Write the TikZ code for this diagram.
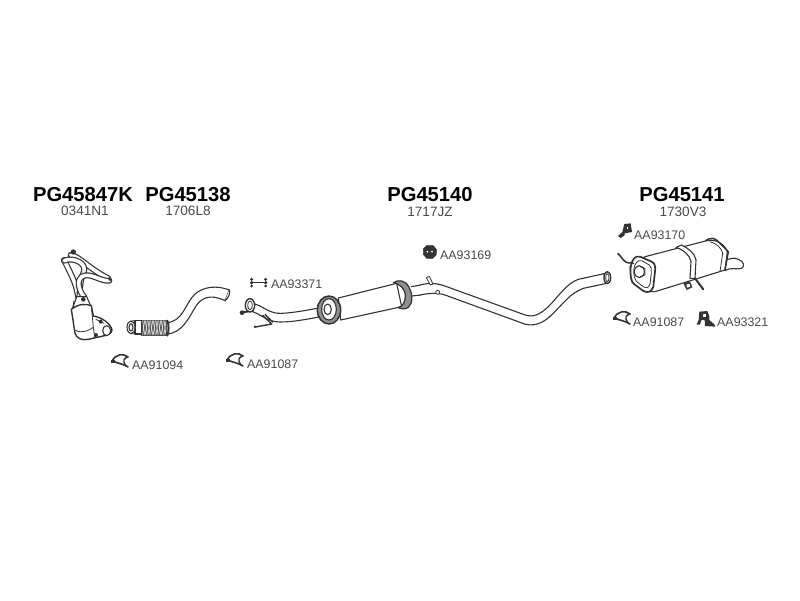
\documentclass[tikz,border=0pt]{standalone}
\usepackage{fontspec}
\setmainfont{Liberation Sans}
\definecolor{ink}{HTML}{333333}
\definecolor{txt}{HTML}{4A4A4A}
\tikzset{
  part/.style={draw=ink,line width=1.1pt,fill=white,line join=round,line cap=round},
  thin part/.style={draw=ink,line width=0.8pt,line join=round,line cap=round},
  heavy/.style={draw=ink,line width=2pt,line join=round,line cap=round},
  dark/.style={fill=ink,draw=ink,line width=0.5pt,line join=round},
  tube out/.style={draw=ink,line width=6pt,line cap=round,line join=round},
  tube in/.style={draw=white,line width=3.6pt,line cap=round,line join=round},
  head/.style={font=\fontsize{20.2}{22}\selectfont\bfseries,text=black,inner sep=0pt,anchor=center},
  sub/.style={font=\fontsize{13.6}{15}\selectfont,text=txt,inner sep=0pt,anchor=center},
  ref/.style={font=\fontsize{12.4}{14}\selectfont,text=txt,inner sep=0pt,anchor=west},
  zoomA/.style={shift={(20,170)},scale=1/3},
  zoomB/.style={shift={(220,220)},scale=1/3},
  zoomC/.style={shift={(590,210)},scale=1/3},
  zoomD/.style={shift={(420,235)},scale=1/3},
  zoomE/.style={shift={(50,240)},scale=1/3},
  clamp/.pic={
    \draw[heavy,line width=1.6pt] (8,-4) .. controls (3,-8) and (-4,-7) .. (-8,0) -- (-2,2) .. controls (1,3) and (5,4) .. (8,6);
    \draw[heavy,line width=1.4pt] (8,-4) .. controls (4,-3) and (2,0) .. (6,5);
    \fill[ink] (-9,-1.5) rectangle (-5,1.5);
  }
}
\newcommand{\tubepath}[1]{\draw[tube out] #1; \draw[tube in] #1;}
\begin{document}
\begin{tikzpicture}[x=1pt,y=-1pt]
\useasboundingbox (0,0) rectangle (800,600);
\fill[white] (0,0) rectangle (800,600);

% headings
\node[head] (h1) at (83,195) {PG45847K};
\node[head] (h2) at (188,195) {PG45138};
\node[head] (h3) at (430,195) {PG45140};
\node[head] (h4) at (682,195) {PG45141};
\node[sub] (s1) at (85,211) {0341N1};
\node[sub] (s2) at (188,211) {1706L8};
\node[sub] (s3) at (430,212) {1717JZ};
\node[sub] (s4) at (683,212) {1730V3};

% reference labels
\node[ref] (r1) at (132,365) {AA91094};
\node[ref] (r2) at (247,364) {AA91087};
\node[ref] (r3) at (271,284) {AA93371};
\node[ref] (r4) at (440,255) {AA93169};
\node[ref] (r5) at (634,235) {AA93170};
\node[ref] (r6) at (633,322) {AA91087};
\node[ref] (r7) at (717,322) {AA93321};

% clamps
\pic at (120,361) {clamp};
\pic at (235,360) {clamp};
\pic at (622,318) {clamp};

% manifold + catalyst
\begin{scope}[zoomE]
\tubepath{(42,60) .. controls (52,80) and (70,115) .. (78,140) -- (85,172)}
\tubepath{(62,45) .. controls (90,50) and (115,85) .. (175,115)}
\tubepath{(42,62) .. controls (70,50) and (115,70) .. (100,100) .. controls (90,120) and (90,150) .. (88,172)}
\tubepath{(178,122) .. controls (150,125) and (120,95) .. (95,110) .. controls (80,120) and (85,150) .. (103,172)}
\fill[ink] (70,36) circle (8);
\fill[ink] (180,118) circle (5);
\draw[part] (80,170) -- (110,170) -- (122,197) -- (68,205) -- cycle;
\fill[ink] (100,178) circle (7);
\draw[thin part] (72,182) -- (68,205);
% catalyst
\draw[part,line width=1.4pt] (130,228) .. controls (155,232) and (182,250) .. (186,270) .. controls (186,282) and (170,286) .. (150,290) -- (115,298) .. controls (95,302) and (80,295) .. (75,280) -- (64,208) .. controls (85,192) and (105,190) .. (124,197) -- cycle;
\draw[thin part] (75,270) .. controls (95,282) and (115,272) .. (130,262);
\draw[thin part] (124,197) -- (130,262) -- (134,290);
\draw[part] (170,272) ellipse [x radius=12,y radius=15];
\fill[ink] (152,245) circle (6);
\fill[ink] (138,285) circle (6);
\draw[thin part] (138,238) -- (162,250);
\end{scope}

\begin{scope}[zoomA]
% flex pipe
\draw[part] (440,458) .. controls (490,455) and (495,400) .. (525,372) .. controls (550,350) and (590,345) .. (628,360) -- (615,392) .. controls (570,370) and (545,385) .. (530,405) .. controls (510,435) and (490,490) .. (440,492) -- cycle;
\draw[part] (628,360) .. controls (632,370) and (625,385) .. (615,392);
\fill[ink!85] (364,449) rectangle (442,497);
\foreach \i in {368,376,...,436}{
  \draw[white,line width=0.5pt] (\i,452) -- (\i+6,494);
  \draw[white,line width=0.5pt] (\i+6,452) -- (\i,494);
}
\draw[part] (345,452) rectangle (365,492);
\draw[part] (333,472) ellipse [x radius=12,y radius=19];
\draw[thin part] (333,453) -- (350,452);
\draw[thin part] (333,491) -- (350,492);
\draw[part] (333,472) ellipse [x radius=6,y radius=11];
\draw[heavy] (442,452) .. controls (447,465) and (447,482) .. (442,497);
\end{scope}

% front pipe + first silencer
\begin{scope}[zoomB]
\draw[part] (105,252) .. controls (135,262) and (150,282) .. (185,280) .. controls (225,278) and (265,270) .. (305,262) -- (312,288) .. controls (260,298) and (220,306) .. (180,306) .. controls (145,306) and (125,285) .. (98,275) -- cycle;
\draw[part,line width=1.4pt] (90,256) ellipse [x radius=14,y radius=20];
\draw[thin part] (90,256) ellipse [x radius=7,y radius=13];
\draw[heavy] (70,277) -- (85,274);
\fill[ink] (66,278) circle (7);
\draw[heavy,line width=1.4pt] (128,286) -- (155,312) -- (106,321);
\draw[heavy,line width=1.4pt] (135,283) -- (158,306);
\fill[ink] (105,320) circle (4);

% silencer body
\draw[part] (355,234) -- (530,190) -- (545,260) -- (362,300) -- cycle;
% rear flange ring
\fill[ink!55] (520,188) .. controls (535,178) and (555,180) .. (566,200) .. controls (580,225) and (578,250) .. (565,262) .. controls (558,268) and (545,268) .. (535,263) .. controls (550,258) and (556,245) .. (556,225) .. controls (556,210) and (542,192) .. (520,188) -- cycle;
\draw[thin part,line width=1.2pt] (520,188) .. controls (535,178) and (555,180) .. (566,200) .. controls (580,225) and (578,250) .. (565,262) .. controls (558,268) and (545,268) .. (535,263) .. controls (550,258) and (556,245) .. (556,225) .. controls (556,210) and (542,192) .. (520,188) -- cycle;
% link to middle pipe
\draw[part] (574,200) -- (602,195);
\draw[part] (576,228) -- (602,225);
% front flange
\draw[part,line width=1.5pt,fill=ink!55] (327,270) ellipse [x radius=35,y radius=42];
\draw[part,fill=white] (327,268) ellipse [x radius=22,y radius=32];
\draw[part] (323,268) ellipse [x radius=11,y radius=16];

% AA93371 studs
\draw[thin part] (95,186) -- (137,186);
\foreach \x in {95,137}{
  \fill[ink] (\x,178) circle (5);
  \fill[ink] (\x,188) circle (5.5);
  \fill[ink] (\x,198) circle (4.5);
}
\end{scope}

% middle pipe
\begin{scope}[zoomD]
\draw[part] (0,150) .. controls (30,142) and (55,145) .. (80,155) -- (310,238) .. controls (340,250) and (360,238) .. (385,215) .. controls (415,185) and (440,145) .. (475,133) -- (552,116) -- (560,145) -- (490,160) .. controls (450,175) and (430,205) .. (400,235) .. controls (370,265) and (340,280) .. (300,262) -- (75,180) .. controls (50,172) and (25,175) .. (0,180);
\draw[part,line width=1.4pt] (562,128) ellipse [x radius=10,y radius=18];
\draw[thin part] (562,128) ellipse [x radius=5,y radius=12];
\draw[thin part,fill=white] (19,128) -- (28,124) -- (39,147) -- (31,150) -- cycle;
\draw[thin part,fill=white] (53,172) circle (6);
% AA93169 mount
\draw[dark] (20,32) -- (40,32) -- (50,45) -- (48,60) -- (38,70) -- (20,70) -- (10,58) -- (10,42) -- cycle;
\fill[white] (22,50) circle (3);
\fill[white] (36,50) circle (3);
\end{scope}

% rear silencer
\begin{scope}[zoomC]
% tail pipe
\draw[part] (405,150) .. controls (420,148) and (430,140) .. (445,148) .. controls (462,155) and (465,168) .. (455,175) .. controls (440,180) and (425,170) .. (405,182) -- cycle;
% body
\draw[part] (165,140) -- (350,92) .. controls (380,85) and (405,105) .. (412,125) -- (405,180) -- (195,245) -- (165,245) -- (125,215) -- (120,170) -- cycle;
% rear band
\draw[heavy,line width=1.5pt] (347,92) .. controls (365,80) and (375,85) .. (385,95) -- (415,125) -- (405,180);
\draw[thin part] (360,95) .. controls (380,100) and (395,115) .. (398,130) -- (390,185);
% centre strap
\draw[part] (258,112) -- (275,105) .. controls (295,115) and (315,130) .. (318,150) -- (315,205) -- (300,205) -- (303,155) .. controls (300,135) and (280,120) .. (258,112) -- cycle;
\draw[heavy] (315,205) -- (340,238);
\fill[ink] (280,220) -- (300,214) -- (307,232) -- (290,240) -- cycle;
\fill[white] (289,224) -- (298,221) -- (301,230) -- (292,233) -- cycle;
% front plate
\draw[part,line width=1.7pt] (122,172) .. controls (125,150) and (135,135) .. (150,140) -- (185,155) .. controls (195,160) and (197,170) .. (195,185) -- (190,230) .. controls (185,245) and (175,250) .. (160,243) -- (132,222) .. controls (122,215) and (120,190) .. (122,172) -- cycle;
\draw[thin part] (132,175) .. controls (135,160) and (142,150) .. (155,152) -- (178,165) .. controls (184,170) and (185,178) .. (184,188) -- (180,222) .. controls (175,235) and (170,235) .. (160,230) -- (140,215) .. controls (132,205) and (130,190) .. (132,175) -- cycle;
\draw[part] (148,185) ellipse [x radius=15,y radius=18];
\draw[thin part] (150,170) -- (165,175) -- (165,195) -- (150,200);
% inlet wire
\draw[heavy,line width=1.5pt] (85,132) .. controls (95,140) and (100,155) .. (112,158) -- (130,160);
\fill[ink] (85,132) circle (4);
% AA93170 bracket
\fill[ink] (103,42) -- (122,40) -- (126,66) -- (104,70) -- (104,76) -- (92,84) -- (84,78) -- (97,66) -- cycle;
\fill[white] (112,50) rectangle (114,56);
% AA93321 mount
\fill[ink] (328,305) -- (352,303) -- (358,318) -- (358,330) -- (374,344) -- (376,350) -- (345,348) -- (344,330) -- (334,330) -- (330,344) -- (320,344) -- (326,330) -- cycle;
\fill[white] (338,312) rectangle (347,322);
\end{scope}
\end{tikzpicture}
\end{document}
